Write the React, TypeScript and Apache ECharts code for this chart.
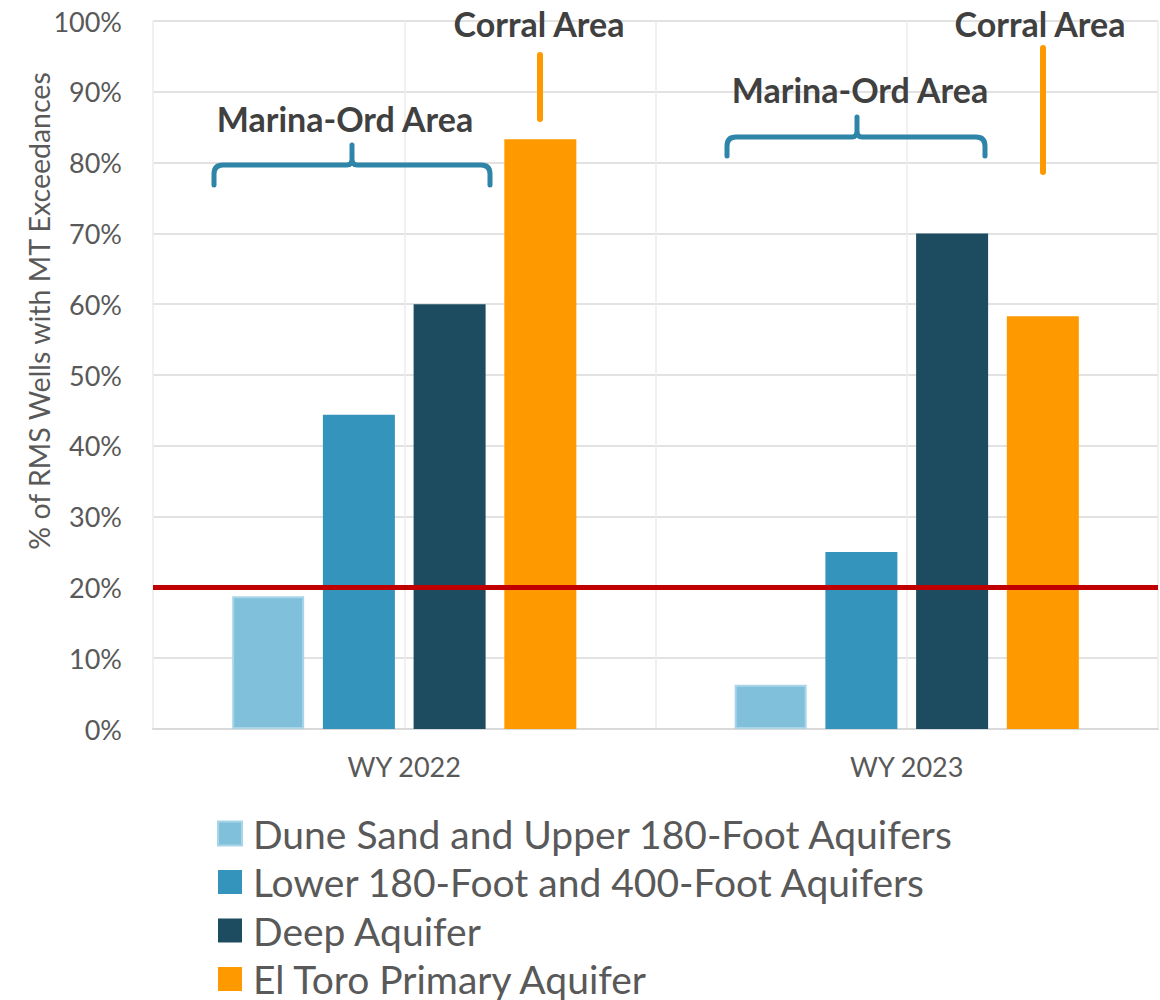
import React, { useEffect, useRef } from "react";
import * as echarts from "echarts";

// Water years on the category axis
const CATEGORIES = ["WY 2022", "WY 2023"];

// Share of RMS wells with minimum-threshold exceedances (%)
const DUNE_SAND = [18.75, 6.25];
const LOWER_180_400 = [44.4, 25];
const DEEP = [60, 70];
const EL_TORO = [83.3, 58.3];

// Regulatory trigger line (%)
const THRESHOLD = 20;

const SERIES_NAMES = [
  "Dune Sand and Upper 180-Foot Aquifers",
  "Lower 180-Foot and 400-Foot Aquifers",
  "Deep Aquifer",
  "El Toro Primary Aquifer",
];

const FONT = "Lato, 'Open Sans', sans-serif";
const TEXT = "#595959";
const BRACE = "#2E85A7";
const ORANGE = "#FF9900";

// Chart canvas is a little taller than the view so the legend fits in one column
const WIDTH = 1160;
const HEIGHT = 1040;

// Curly brace opening downward: ends at yBottom, bar at yH, tip at yTop
function bracePath(x0: number, x1: number, xc: number, yBottom: number, yH: number, yTop: number) {
  const r = 9;
  return (
    `M${x0} ${yBottom} L${x0} ${yH + r} Q${x0} ${yH} ${x0 + r} ${yH} ` +
    `L${xc - 5} ${yH} Q${xc} ${yH} ${xc} ${yH - 6} L${xc} ${yTop} ` +
    `M${xc} ${yH - 6} Q${xc} ${yH} ${xc + 5} ${yH} ` +
    `L${x1 - r} ${yH} Q${x1} ${yH} ${x1} ${yH + r} L${x1} ${yBottom}`
  );
}

echarts.graphic.registerShape("braceA", echarts.graphic.extendPath(bracePath(214, 490, 352, 185, 165, 145), {}));
echarts.graphic.registerShape("braceB", echarts.graphic.extendPath(bracePath(727, 985, 857, 156, 137, 117), {}));

export default function App() {
  const ref = useRef<HTMLDivElement>(null);

  useEffect(() => {
    if (!ref.current) return;
    const chart = echarts.init(ref.current, null, { renderer: "svg" });

    const braceStyle = { fill: "none", stroke: BRACE, lineWidth: 5, lineCap: "round", lineJoin: "round" };
    const labelStyle = (text: string, x: number, y: number) => ({
      type: "text",
      x,
      y,
      z: 100,
      style: {
        text,
        fill: "#404040",
        font: `bold 34px ${FONT}`,
        textAlign: "center",
        textVerticalAlign: "middle",
      },
    });

    chart.setOption({
      animation: false,
      backgroundColor: "#ffffff",
      textStyle: { fontFamily: FONT },
      grid: { left: 153, right: 2, top: 21, bottom: HEIGHT - 729, containLabel: false },
      legend: {
        orient: "vertical",
        left: 217,
        top: 814,
        padding: 0,
        itemWidth: 24,
        itemHeight: 24,
        itemGap: 9.5,
        icon: "rect",
        data: SERIES_NAMES,
        textStyle: { fontSize: 39, color: TEXT, fontFamily: FONT, padding: [0, 0, 0, 6] },
      },
      xAxis: [
        {
          type: "category",
          data: CATEGORIES,
          axisLine: { lineStyle: { color: "#D9D9D9", width: 2 } },
          axisTick: { show: false },
          axisLabel: { fontSize: 27, color: TEXT, margin: 24, fontFamily: FONT },
          splitLine: { show: false },
        },
        {
          type: "value",
          min: 0,
          max: 4,
          interval: 1,
          show: true,
          position: "top",
          axisLine: { show: false },
          axisTick: { show: false },
          axisLabel: { show: false },
          splitLine: { show: true, lineStyle: { color: "#EBEBEB", width: 1.5 } },
        },
      ],
      yAxis: {
        type: "value",
        min: 0,
        max: 100,
        interval: 10,
        axisLine: { show: false },
        axisTick: { show: false },
        axisLabel: { formatter: "{value}%", fontSize: 27, color: TEXT, margin: 31, fontFamily: FONT },
        splitLine: { lineStyle: { color: "#D9D9D9", width: 1.5 } },
      },
      series: [
        {
          name: SERIES_NAMES[0],
          type: "bar",
          data: DUNE_SAND,
          barWidth: 72,
          barGap: "26%",
          itemStyle: { color: "#80C0DB", borderColor: "#A9D5E9", borderWidth: 2 },
          markLine: {
            silent: true,
            symbol: "none",
            label: { show: false },
            lineStyle: { color: "#C00000", width: 5, type: "solid" },
            data: [{ yAxis: THRESHOLD }],
            z: 10,
          },
          z: 2,
        },
        { name: SERIES_NAMES[1], type: "bar", data: LOWER_180_400, barWidth: 72, barGap: "26%", itemStyle: { color: "#3594BB" } },
        { name: SERIES_NAMES[2], type: "bar", data: DEEP, barWidth: 72, barGap: "26%", itemStyle: { color: "#1D4B60" } },
        { name: SERIES_NAMES[3], type: "bar", data: EL_TORO, barWidth: 72, barGap: "26%", itemStyle: { color: ORANGE } },
      ],
      graphic: [
        {
          type: "text",
          x: 39,
          y: 311,
          z: 100,
          rotation: Math.PI / 2,
          style: {
            text: "% of RMS Wells with MT Exceedances",
            fill: TEXT,
            font: `28.5px ${FONT}`,
            textAlign: "center",
            textVerticalAlign: "middle",
          },
        },
        labelStyle("Marina-Ord Area", 345, 118),
        labelStyle("Corral Area", 539, 23),
        labelStyle("Marina-Ord Area", 860, 89),
        labelStyle("Corral Area", 1040, 23),
        { type: "braceA", x: 0, y: 0, z: 100, style: braceStyle },
        { type: "braceB", x: 0, y: 0, z: 100, style: braceStyle },
        {
          type: "line",
          z: 100,
          shape: { x1: 540, y1: 55, x2: 540, y2: 119 },
          style: { stroke: ORANGE, lineWidth: 6, lineCap: "round" },
        },
        {
          type: "line",
          z: 100,
          shape: { x1: 1043, y1: 48, x2: 1043, y2: 172 },
          style: { stroke: ORANGE, lineWidth: 6, lineCap: "round" },
        },
      ],
    });

    return () => chart.dispose();
  }, []);

  return (
    <div
      ref={ref}
      style={{ position: "absolute", left: 0, top: 0, width: WIDTH, height: HEIGHT, background: "#fff" }}
    />
  );
}
